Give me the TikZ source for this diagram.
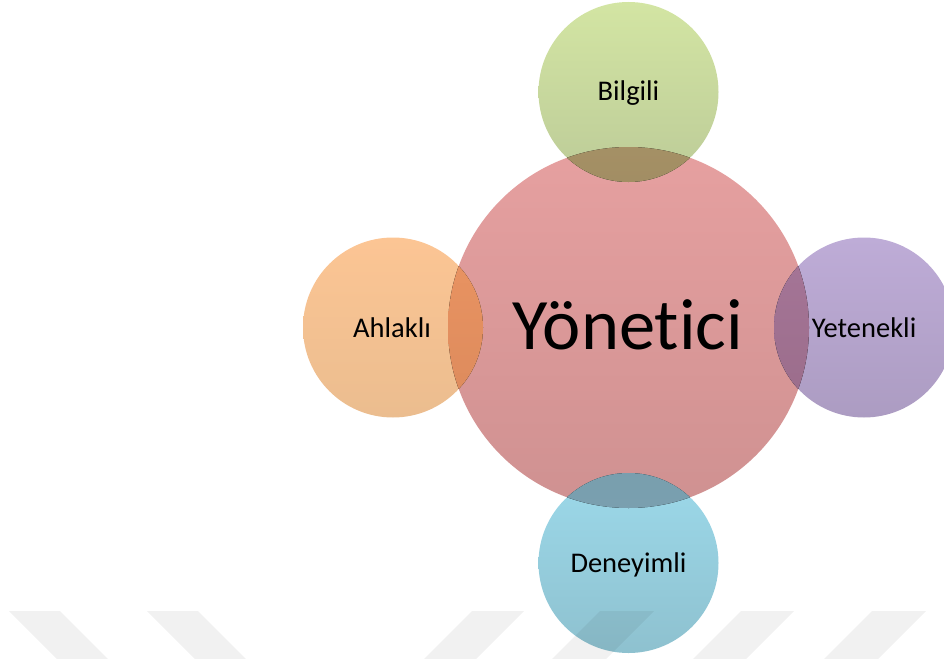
\documentclass[tikz,border=0pt]{standalone}
\usepackage{fontspec}
\setmainfont{Carlito}[Ligatures={NoCommon},RawFeature={-liga;-clig}]
\definecolor{redT}{HTML}{E6A0A0}
\definecolor{redB}{HTML}{CF9191}
\definecolor{grnT}{HTML}{D3E5A3}
\definecolor{grnB}{HTML}{BCCB98}
\definecolor{grnX}{HTML}{B09A6C}
\definecolor{orgT}{HTML}{FCC594}
\definecolor{orgB}{HTML}{EBBD8F}
\definecolor{orgXT}{HTML}{EA9462}
\definecolor{orgXB}{HTML}{DC8A5C}
\definecolor{purT}{HTML}{BEACD7}
\definecolor{purB}{HTML}{AC9CC2}
\definecolor{purXT}{HTML}{A67698}
\definecolor{purXB}{HTML}{9A6C8A}
\definecolor{cynT}{HTML}{9CD9EA}
\definecolor{cynB}{HTML}{8EC1CF}
\definecolor{cynX}{HTML}{7FA3B2}
\begin{document}
\begin{tikzpicture}[x=1pt,y=-1pt,
  ball/.style={circle,inner sep=0pt,minimum size=#1},
  sat/.style={ball=180pt},
  lbl/.style={anchor=base,inner sep=0pt,text=black,font=\fontsize{28.5}{34}\selectfont},
  band/.style={fill=black,fill opacity=0.055}]
\clip (0,0) rectangle (944,658);

% central and satellite discs
\node[ball=361pt,top color=redT,bottom color=redB] (core) at (628.5,327.5) {};
\node[sat,top color=grnT,bottom color=grnB] (top)    at (628.5,92) {};
\node[sat,top color=orgT,bottom color=orgB] (left)   at (393,327.5) {};
\node[sat,top color=purT,bottom color=purB] (right)  at (864,327.5) {};
\node[sat,top color=cynT,bottom color=cynB] (bottom) at (628.5,563) {};

% overlapping lenses
\begin{scope}
  \clip (core.center) circle[radius=180.5pt];
  \fill[top color=grnX,bottom color=grnX!92!black] (top.center) circle[radius=90pt];
  \fill[top color=orgXT,bottom color=orgXB] (left.center) circle[radius=90pt];
  \fill[top color=purXT,bottom color=purXB] (right.center) circle[radius=90pt];
  \fill[top color=cynX!105!white,bottom color=cynX] (bottom.center) circle[radius=90pt];
\end{scope}

% labels
\node[anchor=base,inner sep=0pt,font=\fontsize{72.5}{80}\selectfont] (tcore) at (628,349) {Yönetici};
\node[lbl] (ttop)    at (628.5,101) {Bilgili};
\node[lbl] (tleft)   at (392,337) {Ahlaklı};
\node[lbl] (tright)  at (864,337) {Yetenekli};
\node[lbl] (tbottom) at (628.5,572) {Deneyimli};

% faint slanted bands along the lower edge
\fill[band] (9,611) -- (60,611) -- (119,670) -- (68,670) -- cycle;
\fill[band] (147,611) -- (198,611) -- (257,670) -- (206,670) -- cycle;
\fill[band] (472,611) -- (524,611) -- (465,670) -- (413,670) -- cycle;
\fill[band] (600,611) -- (654,611) -- (595,670) -- (541,670) -- cycle;
\fill[band] (741,611) -- (794,611) -- (735,670) -- (682,670) -- cycle;
\fill[band] (872,611) -- (926,611) -- (867,670) -- (813,670) -- cycle;
\end{tikzpicture}
\end{document}
